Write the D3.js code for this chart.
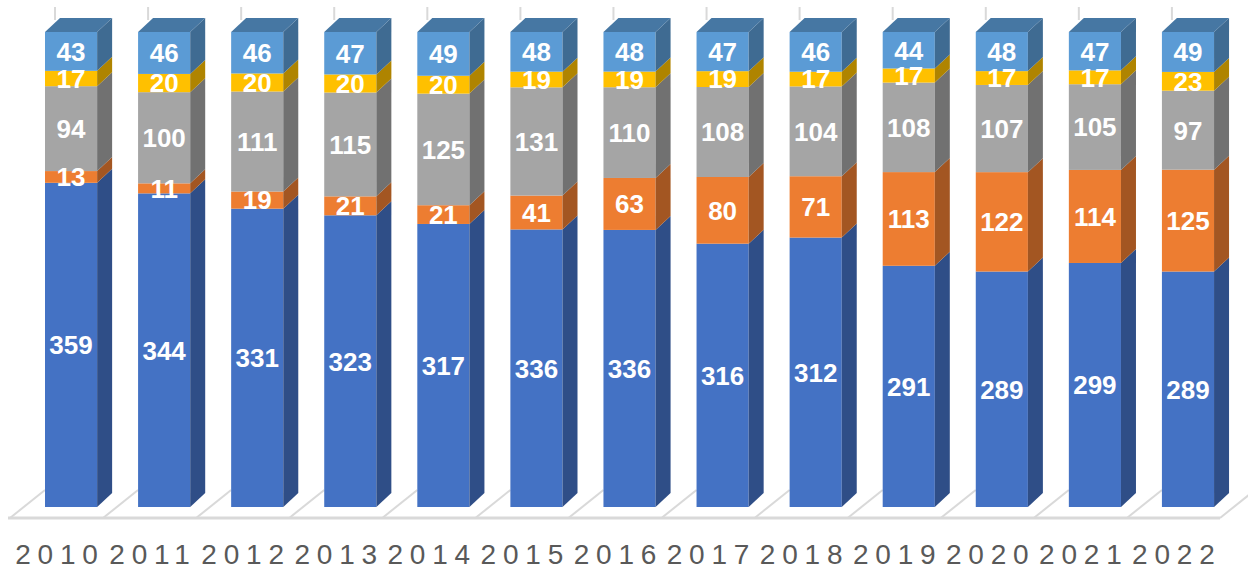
<!DOCTYPE html>
<html>
<head>
<meta charset="utf-8">
<script src="https://cdn.jsdelivr.net/npm/d3@7"></script>
<style>
  html, body { margin: 0; padding: 0; background: #fff; }
  svg { display: block; }
</style>
</head>
<body>
<div id="chart"></div>
<script>
// categories and series (100% stacked, bottom to top)
const years = ["2010","2011","2012","2013","2014","2015","2016","2017","2018","2019","2020","2021","2022"];
const seriesA = [359, 344, 331, 323, 317, 336, 336, 316, 312, 291, 289, 299, 289];
const seriesB = [13, 11, 19, 21, 21, 41, 63, 80, 71, 113, 122, 114, 125];
const seriesC = [94, 100, 111, 115, 125, 131, 110, 108, 104, 108, 107, 105, 97];
const seriesD = [17, 20, 20, 20, 20, 19, 19, 19, 17, 17, 17, 17, 23];
const seriesE = [43, 46, 46, 47, 49, 48, 48, 47, 46, 44, 48, 47, 49];
const seriesColors = ["#4472C4", "#ED7D31", "#A5A5A5", "#FFC000", "#5B9BD5"];

const width = 1248, height = 570;
const floorY = 518, floorDx = 35, floorDy = 28;
const barDx = 15, barDy = 14;

const rows = years.map((y, i) => ({
  year: y, a: seriesA[i], b: seriesB[i], c: seriesC[i], d: seriesD[i], e: seriesE[i]
}));
const keys = ["a", "b", "c", "d", "e"];

const stack = d3.stack().keys(keys).offset(d3.stackOffsetExpand);
const layers = stack(rows);

const x = d3.scaleBand().domain(years).range([10, 1220]).padding(0);
const y = d3.scaleLinear().domain([0, 1]).range([507, 32]);
const barW = x.bandwidth() * 0.56;
const barX = d => x(d) + 35;

const svg = d3.select("#chart").append("svg")
  .attr("width", width)
  .attr("height", height);

// back wall lines peeking above the columns
svg.append("g").selectAll("line")
  .data(years)
  .join("line")
  .attr("x1", d => barX(d) + 10)
  .attr("x2", d => barX(d) + 10)
  .attr("y1", 7)
  .attr("y2", y(1) - barDy + 2)
  .attr("stroke", "#d9d9d9")
  .attr("stroke-width", 2);

// floor
const floor = svg.append("g");
floor.selectAll("line.div")
  .data(years.concat(["end"]))
  .join("line")
  .attr("class", "div")
  .attr("x1", d => d === "end" ? x.range()[1] : x(d))
  .attr("y1", floorY)
  .attr("x2", d => (d === "end" ? x.range()[1] : x(d)) + floorDx)
  .attr("y2", floorY - floorDy)
  .attr("stroke", "#d9d9d9")
  .attr("stroke-width", 2);
floor.append("line")
  .attr("x1", x.range()[0] - 2)
  .attr("x2", x.range()[1])
  .attr("y1", floorY)
  .attr("y2", floorY)
  .attr("stroke", "#d9d9d9")
  .attr("stroke-width", 3);

// columns
const bars = svg.append("g");
layers.forEach((layer, li) => {
  const base = d3.color(seriesColors[li]);
  const side = base.darker(1.05).formatHex();
  const top = base.darker(0.75).formatHex();
  const g = bars.append("g");

  g.selectAll("rect.front")
    .data(layer)
    .join("rect")
    .attr("class", "front")
    .attr("x", d => barX(d.data.year))
    .attr("y", d => y(d[1]))
    .attr("width", barW)
    .attr("height", d => y(d[0]) - y(d[1]))
    .attr("fill", base.formatHex());

  g.selectAll("path.side")
    .data(layer)
    .join("path")
    .attr("class", "side")
    .attr("d", d => {
      const x0 = barX(d.data.year) + barW;
      const y0 = y(d[0]), y1 = y(d[1]);
      return `M${x0},${y1}L${x0 + barDx},${y1 - barDy}L${x0 + barDx},${y0 - barDy}L${x0},${y0}Z`;
    })
    .attr("fill", side);

  if (li === layers.length - 1) {
    g.selectAll("path.top")
      .data(layer)
      .join("path")
      .attr("class", "top")
      .attr("d", d => {
        const x0 = barX(d.data.year);
        const y1 = y(d[1]);
        return `M${x0},${y1}L${x0 + barDx},${y1 - barDy}L${x0 + barW + barDx},${y1 - barDy}L${x0 + barW},${y1}Z`;
      })
      .attr("fill", top);
  }
});

// value labels
const labels = svg.append("g")
  .attr("font-family", "'Liberation Sans', Arial, sans-serif")
  .attr("font-weight", "bold")
  .attr("font-size", 26)
  .attr("fill", "#fff")
  .attr("text-anchor", "middle");
layers.forEach(layer => {
  labels.append("g").selectAll("text")
    .data(layer)
    .join("text")
    .attr("x", d => barX(d.data.year) + barW / 2)
    .attr("y", d => (y(d[0]) + y(d[1])) / 2)
    .attr("dy", "0.36em")
    .text(d => d.data[layer.key]);
});

// category axis
const axis = svg.append("g")
  .attr("transform", `translate(0,544)`)
  .call(d3.axisBottom(x).tickSize(0).tickPadding(0));
axis.select(".domain").remove();
axis.selectAll("text")
  .attr("font-family", "'Liberation Sans', Arial, sans-serif")
  .attr("font-size", 28)
  .attr("fill", "#595959")
  .attr("letter-spacing", "6.8px")
  .attr("dx", 3.4);
</script>
</body>
</html>
